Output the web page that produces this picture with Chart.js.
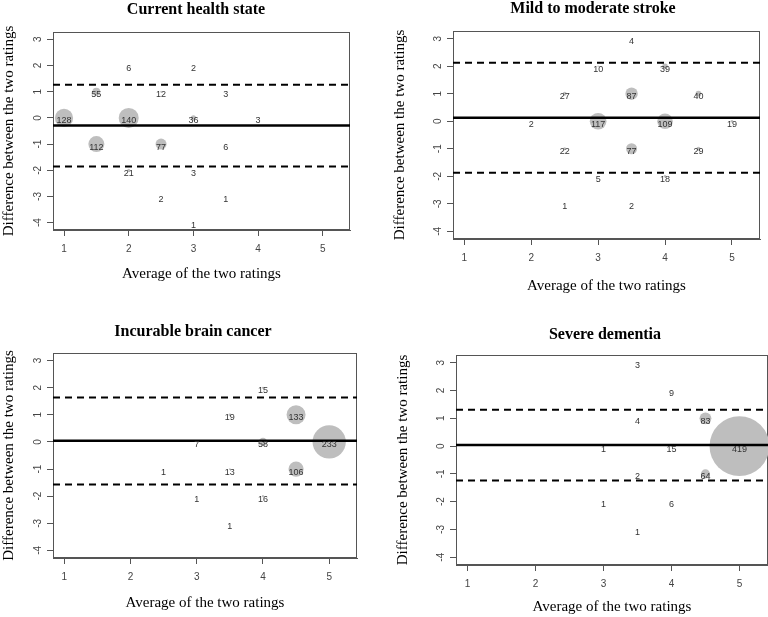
<!DOCTYPE html>
<html>
<head>
<meta charset="utf-8">
<script src="https://cdn.jsdelivr.net/npm/chart.js@4.4.1/dist/chart.umd.min.js"></script>
<style>
  html, body { margin: 0; padding: 0; background: #fff; }
  #wrap { position: relative; width: 768px; height: 617px; overflow: hidden; }
  canvas { position: absolute; }
</style>
</head>
<body>
<div id="wrap">
  <canvas id="c1" width="384" height="300" style="left:0;top:0"></canvas>
  <canvas id="c2" width="384" height="300" style="left:384px;top:0"></canvas>
  <canvas id="c3" width="384" height="317" style="left:0;top:300px"></canvas>
  <canvas id="c4" width="384" height="317" style="left:384px;top:300px"></canvas>
</div>
<script>
// titulos y ejes
const panelTitles = ['Current health state', 'Mild to moderate stroke', 'Incurable brain cancer', 'Severe dementia'];
const xAxisTitle = 'Average of the two ratings';
const yAxisTitle = 'Difference between the two ratings';
const xTicks = [1, 2, 3, 4, 5];
const yTicks = [-4, -3, -2, -1, 0, 1, 2, 3];
const xRange = [0.83, 5.42];
const yRange = [-4.28, 3.28];

// Current health state
const healthX = [2, 3, 1.5, 2.5, 3.5, 1, 2, 3, 4, 1.5, 2.5, 3.5, 2, 3, 2.5, 3.5, 3];
const healthY = [2, 2, 1, 1, 1, 0, 0, 0, 0, -1, -1, -1, -2, -2, -3, -3, -4];
const healthN = [6, 2, 55, 12, 3, 128, 140, 36, 3, 112, 77, 6, 21, 3, 2, 1, 1];

// Mild to moderate stroke
const strokeX = [3.5, 3, 4, 2.5, 3.5, 4.5, 2, 3, 4, 5, 2.5, 3.5, 4.5, 3, 4, 2.5, 3.5];
const strokeY = [3, 2, 2, 1, 1, 1, 0, 0, 0, 0, -1, -1, -1, -2, -2, -3, -3];
const strokeN = [4, 10, 39, 27, 87, 40, 2, 117, 109, 19, 22, 77, 29, 5, 18, 1, 2];

// Incurable brain cancer
const cancerX = [4, 3.5, 4.5, 3, 4, 5, 2.5, 3.5, 4.5, 3, 4, 3.5];
const cancerY = [2, 1, 1, 0, 0, 0, -1, -1, -1, -2, -2, -3];
const cancerN = [15, 19, 133, 7, 58, 233, 1, 13, 106, 1, 16, 1];

// Severe dementia
const dementiaX = [3.5, 4, 3.5, 4.5, 3, 4, 5, 3.5, 4.5, 3, 4, 3.5];
const dementiaY = [3, 2, 1, 1, 0, 0, 0, -1, -1, -2, -2, -3];
const dementiaN = [3, 9, 4, 83, 1, 15, 419, 2, 64, 1, 6, 1];

// media de las diferencias y limites de acuerdo
const meanDiff = [-0.29, 0.13, 0.04, 0.04];
const upperLimit = [1.27, 2.13, 1.64, 1.31];
const lowerLimit = [-1.86, -1.87, -1.57, -1.24];

const panelData = [
  [healthX, healthY, healthN],
  [strokeX, strokeY, strokeN],
  [cancerX, cancerY, cancerN],
  [dementiaX, dementiaY, dementiaN]
];

// posicion de cada grafica dentro de su canvas
const layouts = [
  { left: 53, right: 34, top: 32, bottom: 70, titleX: 196, titleY: 10, yPad: 0, xPad: 17 },
  { left: 69, right: 8, top: 31, bottom: 61, titleX: 209, titleY: 9, yPad: 7, xPad: 5 },
  { left: 53, right: 27, top: 53, bottom: 59, titleX: 193, titleY: 32, yPad: 0, xPad: 5 },
  { left: 72, right: 0, top: 55, bottom: 52, titleX: 221, titleY: 35, yPad: 10, xPad: 1 }
];

const sans = "'Liberation Sans', Arial, sans-serif";
const serif = "'Liberation Serif', 'Times New Roman', serif";

// caja, titulo y etiquetas de los puntos
const panelPlugin = {
  id: 'panelPlugin',
  beforeDatasetsDraw(chart, args, opts) {
    const a = chart.chartArea;
    const ctx = chart.ctx;
    ctx.save();
    ctx.strokeStyle = '#555';
    ctx.lineWidth = 1;
    ctx.strokeRect(Math.round(a.left) + 0.5, Math.round(a.top) + 0.5,
      Math.round(a.right - a.left) - 1, Math.round(a.bottom - a.top) - 1);
    ctx.restore();
  },
  afterDatasetsDraw(chart, args, opts) {
    const ctx = chart.ctx;
    ctx.save();
    ctx.font = '9px ' + sans;
    ctx.fillStyle = '#333';
    ctx.textAlign = 'center';
    ctx.textBaseline = 'middle';
    const meta = chart.getDatasetMeta(3);
    meta.data.forEach((el, i) => {
      ctx.fillText(String(opts.counts[i]), el.x, el.y + 3);
    });
    ctx.font = 'bold 16px ' + serif;
    ctx.fillStyle = '#000';
    ctx.fillText(opts.title, opts.titleX, opts.titleY);
    ctx.restore();
  }
};

function hline(value, width, dash) {
  return {
    type: 'line',
    data: [{ x: xRange[0], y: value }, { x: xRange[1], y: value }],
    borderColor: '#000',
    borderWidth: width,
    borderDash: dash,
    pointRadius: 0,
    order: 0
  };
}

['c1', 'c2', 'c3', 'c4'].forEach((id, p) => {
  const [xs, ys, ns] = panelData[p];
  const L = layouts[p];
  const ctx = document.getElementById(id).getContext('2d');
  new Chart(ctx, {
    type: 'bubble',
    data: {
      datasets: [
        hline(meanDiff[p], 2.5, []),
        hline(upperLimit[p], 2, [7, 5]),
        hline(lowerLimit[p], 2, [7, 5]),
        {
          type: 'bubble',
          data: xs.map((x, i) => ({ x: x, y: ys[i], r: ns[i] / 14 })),
          backgroundColor: '#bebebe',
          borderWidth: 0,
          hoverRadius: 0,
          order: 1
        }
      ]
    },
    options: {
      responsive: false,
      animation: false,
      events: [],
      layout: { autoPadding: false, padding: { left: 0, right: L.right, top: L.top, bottom: 0 } },
      plugins: {
        legend: { display: false },
        tooltip: { enabled: false },
        title: { display: false },
        panelPlugin: { counts: ns, title: panelTitles[p], titleX: L.titleX, titleY: L.titleY }
      },
      scales: {
        x: {
          type: 'linear',
          min: xRange[0],
          max: xRange[1],
          afterBuildTicks: (s) => { s.ticks = xTicks.map(v => ({ value: v })); },
          afterFit: (s) => { s.height = L.bottom; },
          grid: { drawOnChartArea: false, drawTicks: true, tickLength: 6, color: '#555' },
          border: { display: true, color: '#555', width: 1 },
          ticks: { font: { size: 10, family: sans }, color: '#444', padding: 7, maxRotation: 0 },
          title: {
            display: true, text: xAxisTitle, color: '#000',
            font: { size: 15, family: serif }, padding: { top: 0, bottom: L.xPad }
          }
        },
        y: {
          type: 'linear',
          min: yRange[0],
          max: yRange[1],
          afterBuildTicks: (s) => { s.ticks = yTicks.map(v => ({ value: v })); },
          afterFit: (s) => { s.width = L.left; },
          grid: { drawOnChartArea: false, drawTicks: true, tickLength: 6, color: '#555' },
          border: { display: true, color: '#555', width: 1 },
          ticks: {
            font: { size: 10, family: sans }, color: '#444', padding: 4,
            minRotation: 90, maxRotation: 90, crossAlign: 'center'
          },
          title: {
            display: true, text: yAxisTitle, color: '#000',
            font: { size: 15, family: serif }, padding: { top: L.yPad, bottom: 0 }
          }
        }
      }
    },
    plugins: [panelPlugin]
  });
});
</script>
</body>
</html>
